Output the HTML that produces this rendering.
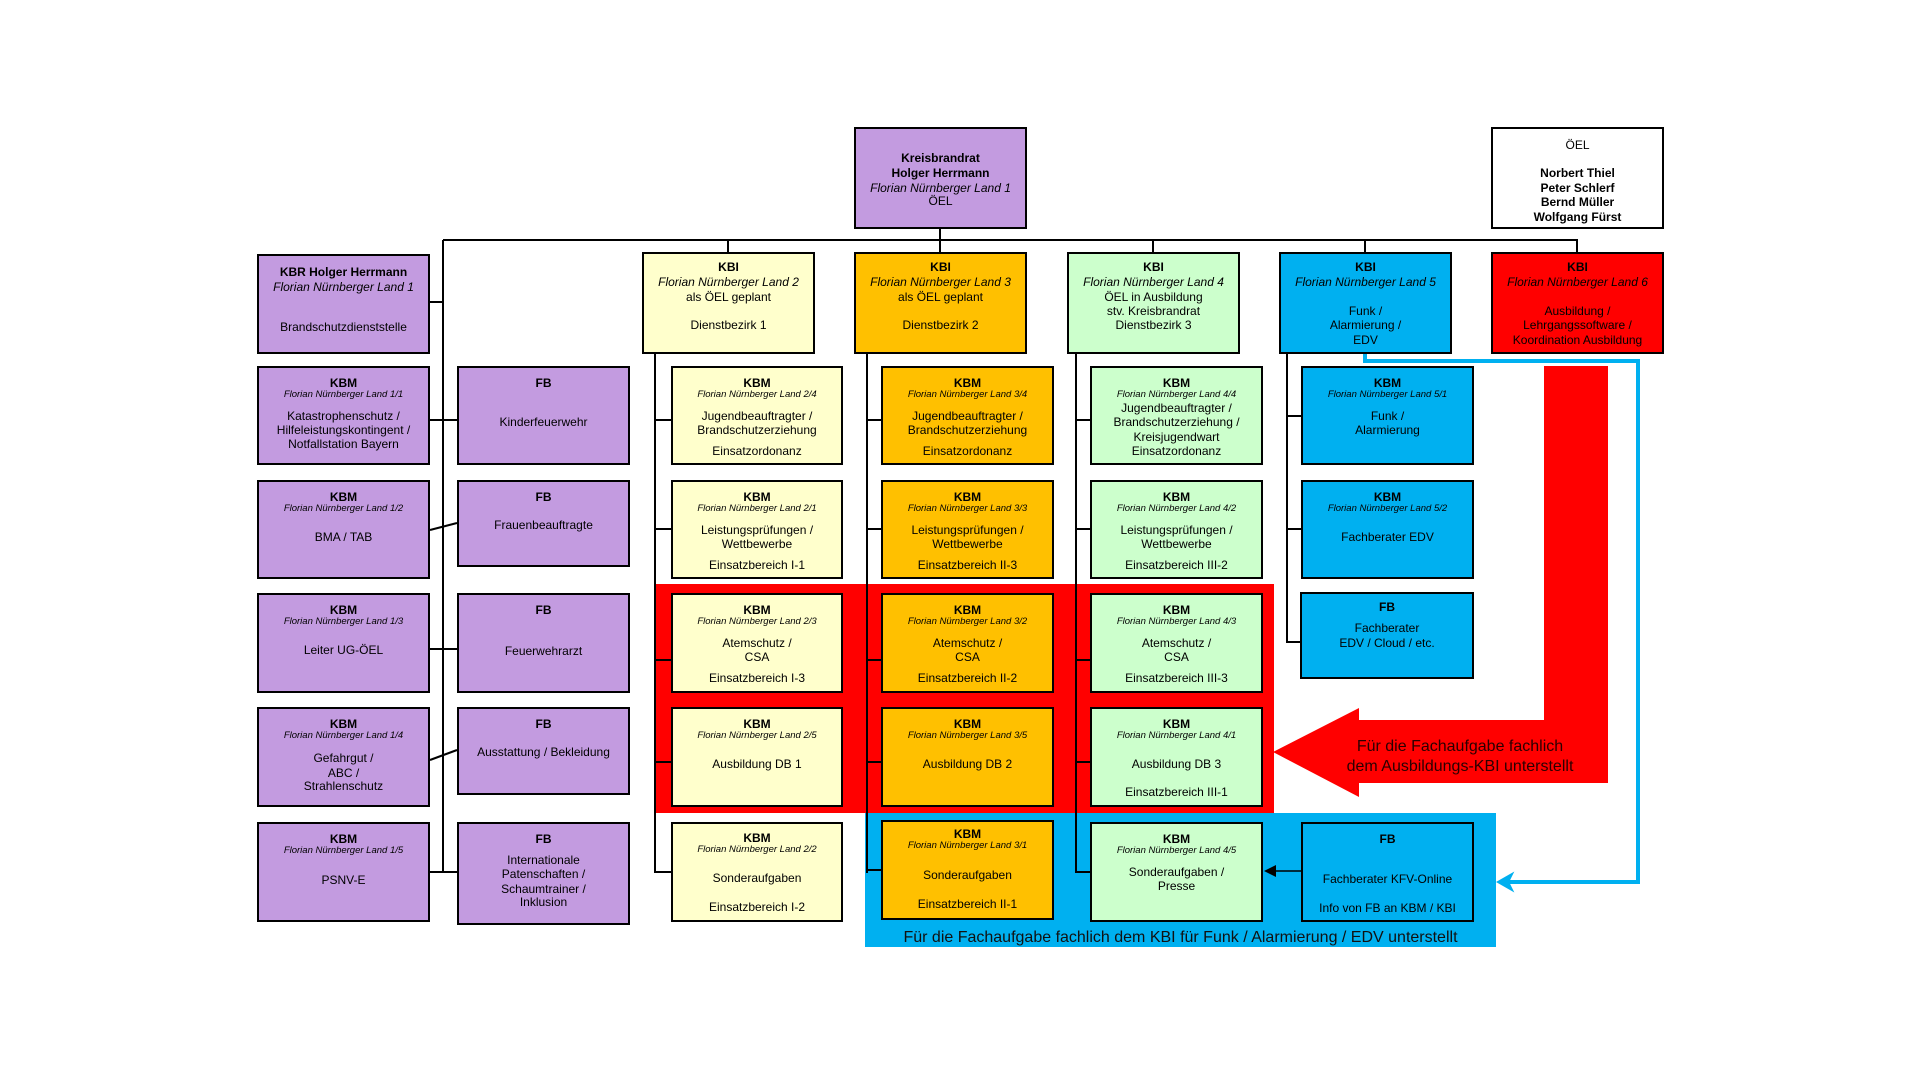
<!DOCTYPE html>
<html><head><meta charset="utf-8">
<style>
html,body{margin:0;padding:0;background:#fff;}
body{width:1920px;height:1080px;position:relative;overflow:hidden;font-family:"Liberation Sans",Arial,sans-serif;color:#000;}
.b{position:absolute;box-sizing:border-box;border:2px solid #000;}
.b div{position:absolute;left:0;right:0;text-align:center;font-size:12px;line-height:14px;height:14px;white-space:nowrap;}
.b div.h{font-weight:bold;}
.b div.i{font-style:italic;font-size:9.5px;line-height:12px;height:12px;}
.b div.k{font-style:italic;}
.p{background:#c39be0;}.y{background:#ffffcc;}.o{background:#ffc000;}.g{background:#ccffcc;}.c{background:#00b0f0;}.r{background:#ff0000;}.w{background:#fff;}
.l{position:absolute;background:#000;}
</style></head><body>

<div style="position:absolute;left:655px;top:584px;width:619px;height:229px;background:#ff0000;"></div>
<div style="position:absolute;left:865px;top:813px;width:631px;height:134px;background:#00b0f0;"></div>
<div style="position:absolute;left:865px;top:929px;width:631px;text-align:center;font-size:16px;color:#111;">Für die Fachaufgabe fachlich dem KBI für Funk / Alarmierung / EDV unterstellt</div>

<div class="l" style="left:443px;top:239px;width:1135px;height:2px;"></div>
<div class="l" style="left:939px;top:229px;width:2px;height:11px;"></div>
<div class="l" style="left:727px;top:240px;width:2px;height:12px;"></div>
<div class="l" style="left:939px;top:240px;width:2px;height:12px;"></div>
<div class="l" style="left:1152px;top:240px;width:2px;height:12px;"></div>
<div class="l" style="left:1364px;top:240px;width:2px;height:12px;"></div>
<div class="l" style="left:1576px;top:240px;width:2px;height:12px;"></div>
<div class="l" style="left:442px;top:240px;width:2px;height:633px;"></div>
<div class="l" style="left:430px;top:301px;width:13px;height:2px;"></div>
<div class="l" style="left:430px;top:419px;width:27px;height:2px;"></div>
<div class="l" style="left:430px;top:648px;width:27px;height:2px;"></div>
<div class="l" style="left:430px;top:871px;width:27px;height:2px;"></div>
<svg style="position:absolute;left:0;top:0" width="1920" height="1080">
<line x1="430" y1="530" x2="457" y2="523" stroke="#000" stroke-width="2"/>
<line x1="430" y1="760" x2="457" y2="750" stroke="#000" stroke-width="2"/>
</svg>
<div class="l" style="left:654px;top:354px;width:2px;height:519px;"></div>
<div class="l" style="left:655px;top:419px;width:16px;height:2px;"></div>
<div class="l" style="left:655px;top:528px;width:16px;height:2px;"></div>
<div class="l" style="left:655px;top:659px;width:16px;height:2px;"></div>
<div class="l" style="left:655px;top:761px;width:16px;height:2px;"></div>
<div class="l" style="left:655px;top:871px;width:16px;height:2px;"></div>
<div class="l" style="left:866px;top:354px;width:2px;height:519px;"></div>
<div class="l" style="left:867px;top:419px;width:14px;height:2px;"></div>
<div class="l" style="left:867px;top:528px;width:14px;height:2px;"></div>
<div class="l" style="left:867px;top:659px;width:14px;height:2px;"></div>
<div class="l" style="left:867px;top:761px;width:14px;height:2px;"></div>
<div class="l" style="left:867px;top:869px;width:14px;height:2px;"></div>
<div class="l" style="left:1075px;top:354px;width:2px;height:519px;"></div>
<div class="l" style="left:1076px;top:419px;width:14px;height:2px;"></div>
<div class="l" style="left:1076px;top:528px;width:14px;height:2px;"></div>
<div class="l" style="left:1076px;top:659px;width:14px;height:2px;"></div>
<div class="l" style="left:1076px;top:761px;width:14px;height:2px;"></div>
<div class="l" style="left:1076px;top:871px;width:14px;height:2px;"></div>
<div class="l" style="left:1286px;top:354px;width:2px;height:289px;"></div>
<div class="l" style="left:1287px;top:415px;width:14px;height:2px;"></div>
<div class="l" style="left:1287px;top:528px;width:14px;height:2px;"></div>
<div class="l" style="left:1287px;top:641px;width:14px;height:2px;"></div>

<svg style="position:absolute;left:0;top:0" width="1920" height="1080">
<polygon points="1544,366 1608,366 1608,783 1359,783 1359,797 1273,752 1359,708 1359,720 1544,720" fill="#ff0000"/>
<polyline points="1365,354 1365,361 1638,361 1638,882 1508,882" fill="none" stroke="#00b0f0" stroke-width="4"/>
<polygon points="1498,882 1512,874 1508,882 1512,890" fill="#00b0f0" stroke="#00b0f0" stroke-width="2"/>
<line x1="1301" y1="871" x2="1275" y2="871" stroke="#000" stroke-width="1.5"/>
<polygon points="1264,871 1276,865 1276,877" fill="#000"/>
</svg>
<div style="position:absolute;left:1330px;top:737px;width:260px;text-align:center;font-size:16px;line-height:20px;color:#2a0000;">Für die Fachaufgabe fachlich<br>dem Ausbildungs-KBI unterstellt</div>

<div class="b p" style="left:854px;top:127px;width:173px;height:102px;">
<div class="h" style="top:22px">Kreisbrandrat</div><div class="h" style="top:37px">Holger Herrmann</div><div class="k" style="top:52px">Florian Nürnberger Land 1</div><div style="top:65px">ÖEL</div></div>
<div class="b w" style="left:1491px;top:127px;width:173px;height:102px;">
<div style="top:9px">ÖEL</div><div class="h" style="top:37px">Norbert Thiel</div><div class="h" style="top:52px">Peter Schlerf</div><div class="h" style="top:66px">Bernd Müller</div><div class="h" style="top:81px">Wolfgang Fürst</div></div>

<div class="b p" style="left:257px;top:254px;width:173px;height:100px;">
<div class="h" style="top:9px">KBR Holger Herrmann</div><div class="k" style="top:24px">Florian Nürnberger Land 1</div><div style="top:64px">Brandschutzdienststelle</div></div>
<div class="b y" style="left:642px;top:252px;width:173px;height:102px;">
<div class="h" style="top:6px">KBI</div><div class="k" style="top:21px">Florian Nürnberger Land 2</div><div style="top:36px">als ÖEL geplant</div><div style="top:64px">Dienstbezirk 1</div></div>
<div class="b o" style="left:854px;top:252px;width:173px;height:102px;">
<div class="h" style="top:6px">KBI</div><div class="k" style="top:21px">Florian Nürnberger Land 3</div><div style="top:36px">als ÖEL geplant</div><div style="top:64px">Dienstbezirk 2</div></div>
<div class="b g" style="left:1067px;top:252px;width:173px;height:102px;">
<div class="h" style="top:6px">KBI</div><div class="k" style="top:21px">Florian Nürnberger Land 4</div><div style="top:36px">ÖEL in Ausbildung</div><div style="top:50px">stv. Kreisbrandrat</div><div style="top:64px">Dienstbezirk 3</div></div>
<div class="b c" style="left:1279px;top:252px;width:173px;height:102px;">
<div class="h" style="top:6px">KBI</div><div class="k" style="top:21px">Florian Nürnberger Land 5</div><div style="top:50px">Funk /</div><div style="top:64px">Alarmierung /</div><div style="top:79px">EDV</div></div>
<div class="b r" style="left:1491px;top:252px;width:173px;height:102px;">
<div class="h" style="top:6px">KBI</div><div class="k" style="top:21px">Florian Nürnberger Land 6</div><div style="top:50px">Ausbildung /</div><div style="top:64px">Lehrgangssoftware /</div><div style="top:79px">Koordination Ausbildung</div></div>

<div class="b p" style="left:257px;top:366px;width:173px;height:99px;">
<div class="h" style="top:8px">KBM</div><div class="i" style="top:21px">Florian Nürnberger Land 1/1</div><div style="top:41px">Katastrophenschutz /</div><div style="top:55px">Hilfeleistungskontingent /</div><div style="top:69px">Notfallstation Bayern</div></div>
<div class="b p" style="left:257px;top:480px;width:173px;height:99px;">
<div class="h" style="top:8px">KBM</div><div class="i" style="top:21px">Florian Nürnberger Land 1/2</div><div style="top:48px">BMA / TAB</div></div>
<div class="b p" style="left:257px;top:593px;width:173px;height:100px;">
<div class="h" style="top:8px">KBM</div><div class="i" style="top:21px">Florian Nürnberger Land 1/3</div><div style="top:48px">Leiter UG-ÖEL</div></div>
<div class="b p" style="left:257px;top:707px;width:173px;height:100px;">
<div class="h" style="top:8px">KBM</div><div class="i" style="top:21px">Florian Nürnberger Land 1/4</div><div style="top:42px">Gefahrgut /</div><div style="top:57px">ABC /</div><div style="top:70px">Strahlenschutz</div></div>
<div class="b p" style="left:257px;top:822px;width:173px;height:100px;">
<div class="h" style="top:8px">KBM</div><div class="i" style="top:21px">Florian Nürnberger Land 1/5</div><div style="top:49px">PSNV-E</div></div>

<div class="b p" style="left:457px;top:366px;width:173px;height:99px;"><div class="h" style="top:8px">FB</div><div style="top:47px">Kinderfeuerwehr</div></div>
<div class="b p" style="left:457px;top:480px;width:173px;height:87px;"><div class="h" style="top:8px">FB</div><div style="top:36px">Frauenbeauftragte</div></div>
<div class="b p" style="left:457px;top:593px;width:173px;height:100px;"><div class="h" style="top:8px">FB</div><div style="top:49px">Feuerwehrarzt</div></div>
<div class="b p" style="left:457px;top:707px;width:173px;height:88px;"><div class="h" style="top:8px">FB</div><div style="top:36px">Ausstattung / Bekleidung</div></div>
<div class="b p" style="left:457px;top:822px;width:173px;height:103px;"><div class="h" style="top:8px">FB</div><div style="top:29px">Internationale</div><div style="top:43px">Patenschaften /</div><div style="top:58px">Schaumtrainer /</div><div style="top:71px">Inklusion</div></div>

<div class="b y" style="left:671px;top:366px;width:172px;height:99px;"><div class="h" style="top:8px">KBM</div><div class="i" style="top:21px">Florian Nürnberger Land 2/4</div><div style="top:41px">Jugendbeauftragter /</div><div style="top:55px">Brandschutzerziehung</div><div style="top:76px">Einsatzordonanz</div></div>
<div class="b y" style="left:671px;top:480px;width:172px;height:99px;"><div class="h" style="top:8px">KBM</div><div class="i" style="top:21px">Florian Nürnberger Land 2/1</div><div style="top:41px">Leistungsprüfungen /</div><div style="top:55px">Wettbewerbe</div><div style="top:76px">Einsatzbereich I-1</div></div>
<div class="b y" style="left:671px;top:593px;width:172px;height:100px;"><div class="h" style="top:8px">KBM</div><div class="i" style="top:21px">Florian Nürnberger Land 2/3</div><div style="top:41px">Atemschutz /</div><div style="top:55px">CSA</div><div style="top:76px">Einsatzbereich I-3</div></div>
<div class="b y" style="left:671px;top:707px;width:172px;height:100px;"><div class="h" style="top:8px">KBM</div><div class="i" style="top:21px">Florian Nürnberger Land 2/5</div><div style="top:48px">Ausbildung DB 1</div></div>
<div class="b y" style="left:671px;top:822px;width:172px;height:100px;"><div class="h" style="top:7px">KBM</div><div class="i" style="top:20px">Florian Nürnberger Land 2/2</div><div style="top:47px">Sonderaufgaben</div><div style="top:76px">Einsatzbereich I-2</div></div>

<div class="b o" style="left:881px;top:366px;width:173px;height:99px;"><div class="h" style="top:8px">KBM</div><div class="i" style="top:21px">Florian Nürnberger Land 3/4</div><div style="top:41px">Jugendbeauftragter /</div><div style="top:55px">Brandschutzerziehung</div><div style="top:76px">Einsatzordonanz</div></div>
<div class="b o" style="left:881px;top:480px;width:173px;height:99px;"><div class="h" style="top:8px">KBM</div><div class="i" style="top:21px">Florian Nürnberger Land 3/3</div><div style="top:41px">Leistungsprüfungen /</div><div style="top:55px">Wettbewerbe</div><div style="top:76px">Einsatzbereich II-3</div></div>
<div class="b o" style="left:881px;top:593px;width:173px;height:100px;"><div class="h" style="top:8px">KBM</div><div class="i" style="top:21px">Florian Nürnberger Land 3/2</div><div style="top:41px">Atemschutz /</div><div style="top:55px">CSA</div><div style="top:76px">Einsatzbereich II-2</div></div>
<div class="b o" style="left:881px;top:707px;width:173px;height:100px;"><div class="h" style="top:8px">KBM</div><div class="i" style="top:21px">Florian Nürnberger Land 3/5</div><div style="top:48px">Ausbildung DB 2</div></div>
<div class="b o" style="left:881px;top:820px;width:173px;height:100px;"><div class="h" style="top:5px">KBM</div><div class="i" style="top:18px">Florian Nürnberger Land 3/1</div><div style="top:46px">Sonderaufgaben</div><div style="top:75px">Einsatzbereich II-1</div></div>

<div class="b g" style="left:1090px;top:366px;width:173px;height:99px;"><div class="h" style="top:8px">KBM</div><div class="i" style="top:21px">Florian Nürnberger Land 4/4</div><div style="top:33px">Jugendbeauftragter /</div><div style="top:47px">Brandschutzerziehung /</div><div style="top:62px">Kreisjugendwart</div><div style="top:76px">Einsatzordonanz</div></div>
<div class="b g" style="left:1090px;top:480px;width:173px;height:99px;"><div class="h" style="top:8px">KBM</div><div class="i" style="top:21px">Florian Nürnberger Land 4/2</div><div style="top:41px">Leistungsprüfungen /</div><div style="top:55px">Wettbewerbe</div><div style="top:76px">Einsatzbereich III-2</div></div>
<div class="b g" style="left:1090px;top:593px;width:173px;height:100px;"><div class="h" style="top:8px">KBM</div><div class="i" style="top:21px">Florian Nürnberger Land 4/3</div><div style="top:41px">Atemschutz /</div><div style="top:55px">CSA</div><div style="top:76px">Einsatzbereich III-3</div></div>
<div class="b g" style="left:1090px;top:707px;width:173px;height:100px;"><div class="h" style="top:8px">KBM</div><div class="i" style="top:21px">Florian Nürnberger Land 4/1</div><div style="top:48px">Ausbildung DB 3</div><div style="top:76px">Einsatzbereich III-1</div></div>
<div class="b g" style="left:1090px;top:822px;width:173px;height:100px;"><div class="h" style="top:8px">KBM</div><div class="i" style="top:21px">Florian Nürnberger Land 4/5</div><div style="top:41px">Sonderaufgaben /</div><div style="top:55px">Presse</div></div>

<div class="b c" style="left:1301px;top:366px;width:173px;height:99px;"><div class="h" style="top:8px">KBM</div><div class="i" style="top:21px">Florian Nürnberger Land 5/1</div><div style="top:41px">Funk /</div><div style="top:55px">Alarmierung</div></div>
<div class="b c" style="left:1301px;top:480px;width:173px;height:99px;"><div class="h" style="top:8px">KBM</div><div class="i" style="top:21px">Florian Nürnberger Land 5/2</div><div style="top:48px">Fachberater EDV</div></div>
<div class="b c" style="left:1300px;top:592px;width:174px;height:87px;"><div class="h" style="top:6px">FB</div><div style="top:27px">Fachberater</div><div style="top:42px">EDV / Cloud / etc.</div></div>
<div class="b c" style="left:1301px;top:822px;width:173px;height:100px;"><div class="h" style="top:8px">FB</div><div style="top:48px">Fachberater KFV-Online</div><div style="top:77px">Info von FB an KBM / KBI</div></div>

</body></html>
